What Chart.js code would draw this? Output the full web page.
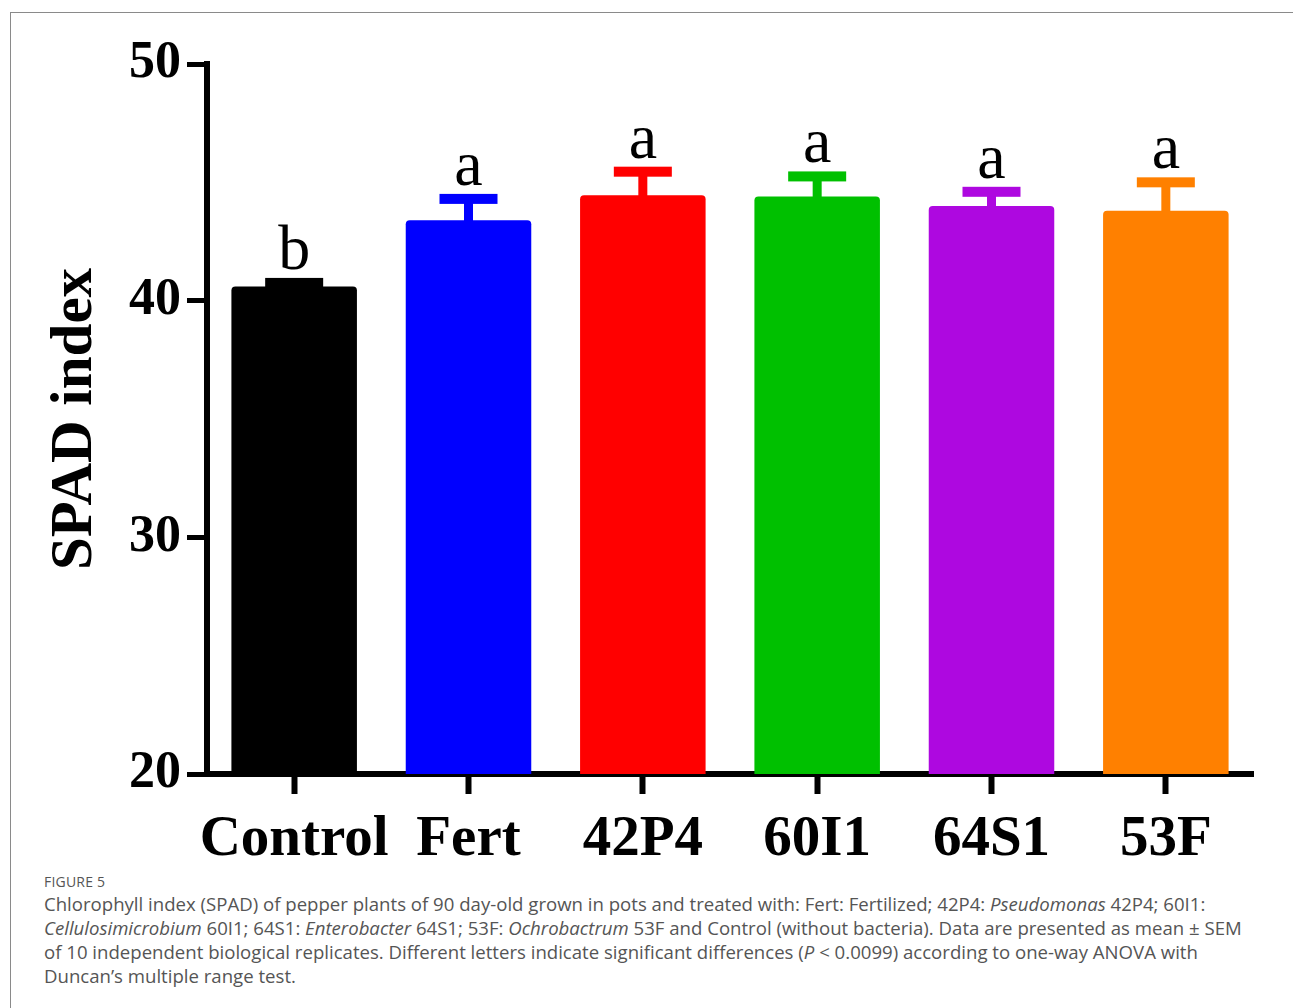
<!DOCTYPE html>
<html>
<head>
<meta charset="utf-8">
<title>SPAD index</title>
<script src="https://cdn.jsdelivr.net/npm/chart.js@4.4.1/dist/chart.umd.min.js"></script>
<style>
    body { margin: 0; background: #fff; }
    #frame {
        position: absolute; left: 10px; top: 12px;
        width: 1300px; height: 1010px;
        border: 1px solid #8a8a8a;
    }
    #chartBox {
        position: absolute; left: 0; top: 0;
        width: 1293px; height: 870px;
    }
    #caption {
        position: absolute; left: 44px; top: 872px;
        font-family: "Open Sans", sans-serif;
        color: #555;
    }
    #caption .fig { font-size: 14px; line-height: 20px; letter-spacing: 0.2px; }
    #caption .line { font-size: 18.6px; line-height: 24px; white-space: nowrap; }
</style>
</head>
<body>
<div id="frame"></div>
<div id="chartBox"><canvas id="spadChart"></canvas></div>
<div id="caption">
    <div class="fig">FIGURE 5</div>
    <div class="line">Chlorophyll index (SPAD) of pepper plants of 90 day-old grown in pots and treated with: Fert: Fertilized; 42P4: <i>Pseudomonas</i> 42P4; 60I1:</div>
    <div class="line"><i>Cellulosimicrobium</i> 60I1; 64S1: <i>Enterobacter</i> 64S1; 53F: <i>Ochrobactrum</i> 53F and Control (without bacteria). Data are presented as mean ± SEM</div>
    <div class="line">of 10 independent biological replicates. Different letters indicate significant differences (<i>P</i> &lt; 0.0099) according to one-way ANOVA with</div>
    <div class="line">Duncan’s multiple range test.</div>
</div>

<script>
// Data
const treatments = ["Control", "Fert", "42P4", "60I1", "64S1", "53F"];
const spadMean = [40.6, 43.4, 44.45, 44.4, 44.0, 43.8];
const spadSem = [0.15, 0.9, 1.0, 0.85, 0.6, 1.2];
const letters = ["b", "a", "a", "a", "a", "a"];
const barColors = ["#000000", "#0000ff", "#ff0000", "#00c000", "#ae08e0", "#ff8000"];
const yTicks = [20, 30, 40, 50];

// Draw the upper SEM bars and the letters above them
const errorBarPlugin = {
    id: 'errorBars',
    afterDatasetsDraw(chart) {
        const ctx = chart.ctx;
        const yScale = chart.scales.y;
        const meta = chart.getDatasetMeta(0);
        ctx.save();
        meta.data.forEach((bar, i) => {
            const top = yScale.getPixelForValue(spadMean[i]);
            const capY = yScale.getPixelForValue(spadMean[i] + spadSem[i]);
            ctx.fillStyle = barColors[i];
            // stem
            ctx.fillRect(bar.x - 4.5, capY, 9, top - capY + 2);
            // cap
            ctx.fillRect(bar.x - 29, capY - 5, 58, 10);
            // letter
            ctx.fillStyle = '#000';
            ctx.font = '64px "Liberation Serif", "Times New Roman", serif';
            ctx.textAlign = 'center';
            ctx.textBaseline = 'alphabetic';
            ctx.fillText(letters[i], bar.x, capY - 14);
        });
        ctx.restore();
    }
};

const ctx = document.getElementById('spadChart').getContext('2d');
new Chart(ctx, {
    type: 'bar',
    data: {
        labels: treatments,
        datasets: [{
            data: spadMean,
            backgroundColor: barColors,
            borderWidth: 0,
            borderRadius: { topLeft: 4, topRight: 4, bottomLeft: 0, bottomRight: 0 },
            borderSkipped: 'bottom',
            categoryPercentage: 1.0,
            barPercentage: 0.72
        }]
    },
    options: {
        responsive: true,
        maintainAspectRatio: false,
        animation: false,
        layout: { padding: { top: 64, right: 40, left: 0, bottom: 0 } },
        plugins: {
            legend: { display: false },
            tooltip: { enabled: false }
        },
        scales: {
            x: {
                z: 1,
                offset: true,
                border: { display: true, color: '#000', width: 6 },
                grid: {
                    offset: false,
                    drawOnChartArea: false,
                    drawTicks: true,
                    tickLength: 20,
                    tickWidth: 6,
                    tickColor: '#000'
                },
                ticks: {
                    color: '#000',
                    padding: 12,
                    autoSkip: false,
                    maxRotation: 0,
                    minRotation: 0,
                    font: { family: '"Liberation Serif", "Times New Roman", serif', size: 57, weight: 'bold' }
                },
                afterFit(scale) { scale.height = 96; }
            },
            y: {
                z: 1,
                min: 20,
                max: 50,
                afterBuildTicks(scale) { scale.ticks = yTicks.map(v => ({ value: v })); },
                border: { display: true, color: '#000', width: 6 },
                grid: {
                    drawOnChartArea: false,
                    drawTicks: true,
                    tickLength: 20,
                    tickWidth: 5,
                    tickColor: '#000'
                },
                ticks: {
                    color: '#000',
                    padding: 6,
                    font: { family: '"Liberation Serif", "Times New Roman", serif', size: 52, weight: 'bold' }
                },
                title: {
                    display: true,
                    text: 'SPAD index',
                    color: '#000',
                    padding: { top: 40, bottom: 0 },
                    font: { family: '"Liberation Serif", "Times New Roman", serif', size: 59, weight: 'bold' }
                },
                afterFit(scale) { scale.width = 207; }
            }
        }
    },
    plugins: [errorBarPlugin]
});
</script>
</body>
</html>
